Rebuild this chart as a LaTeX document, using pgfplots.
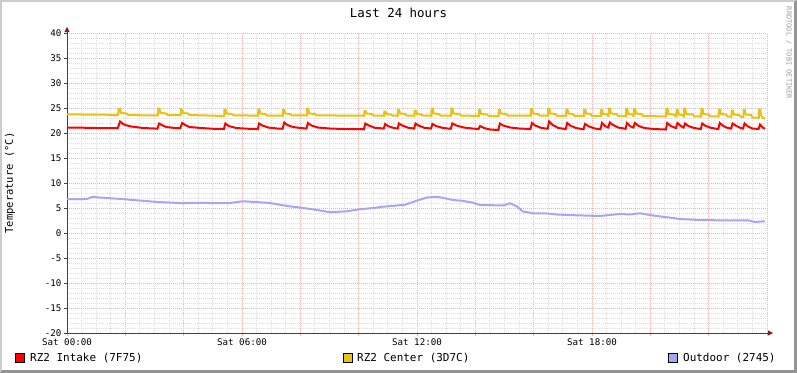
\documentclass[border=0pt]{standalone}
\usepackage{pgfplots}
\pgfplotsset{compat=1.18}
\usepackage{fontspec}
\setmainfont{DejaVu Sans Mono}
\usetikzlibrary{arrows.meta}
\definecolor{cred}{HTML}{FF0000}
\definecolor{cyel}{HTML}{EAC117}
\definecolor{clav}{HTML}{A6A6F6}
\definecolor{mgrid}{HTML}{EDB4B4}
\definecolor{ngrid}{HTML}{DEDEDE}
\definecolor{arrowc}{HTML}{7F1F1F}
\definecolor{axisc}{HTML}{404040}
\begin{document}
\begin{tikzpicture}
\useasboundingbox (0bp,0bp) rectangle (797bp,373bp);
\fill[black!20] (0bp,0bp) rectangle (797bp,373bp);
\fill[black!42] (0bp,0bp) -- (797bp,0bp) -- (797bp,373bp) -- (794bp,371bp) -- (794bp,3bp) -- (2bp,3bp) -- cycle;
\fill[white] (2bp,3bp) rectangle (794bp,371bp);
\begin{axis}[
  at={(67bp,40bp)}, anchor=south west,
  width=700bp, height=300bp, scale only axis,
  xmin=0, xmax=24, ymin=-20, ymax=40,
  axis lines=left,
  x axis line style={draw=axisc, line width=0.8bp, shorten >=-6bp, -{Triangle[length=5bp,width=5bp,color=arrowc]}},
  y axis line style={draw=axisc, line width=0.8bp, shorten >=-6bp, -{Triangle[length=5bp,width=5bp,color=arrowc]}},
  xtick={0,2,...,24},
  xticklabels={Sat 00:00,,,Sat 06:00,,,Sat 12:00,,,Sat 18:00,,,},
  ytick={-20,-15,...,40},
  yticklabels={-20,-15,-10,-5,0,5,10,15,20,25,30,35,40},
  minor x tick num=3, minor y tick num=4,
  grid=both,
  major grid style={draw=mgrid, line width=1bp, dash pattern=on 1bp off 1bp},
  minor grid style={draw=ngrid, line width=1bp, dash pattern=on 1bp off 1bp},
  major tick length=3bp, minor tick length=0bp,
  tick align=outside,
  x tick style={draw=mgrid, line width=1bp},
  y tick style={draw=axisc, line width=0.8bp},
  ticklabel style={font=\fontsize{9.2}{9.2}\selectfont},
  xticklabel style={yshift=1bp},
  yticklabel style={xshift=1bp},
  clip=false,
]
% RZ2 Intake
\addplot[cred, line width=2bp] coordinates {
(0,21.1) (0.6,21.05) (1.0,21.0) (1.4,21.0)
(1.74,20.95) (1.82,22.3) (1.9,21.9) (2.0,21.6) (2.2,21.3) (2.6,21.0) (3.0,20.9)
(3.10,20.85) (3.16,21.9) (3.25,21.6) (3.4,21.2) (3.7,21.0)
(3.88,20.95) (3.95,22.0) (4.05,21.6) (4.2,21.2) (4.6,21.0) (5.0,20.85) (5.35,20.8)
(5.38,20.8) (5.43,21.9) (5.55,21.4) (5.8,21.0) (6.2,20.85) (6.5,20.8)
(6.54,20.75) (6.59,21.9) (6.7,21.5) (6.9,21.1) (7.2,20.9) (7.38,20.85)
(7.39,20.85) (7.45,22.1) (7.55,21.6) (7.75,21.2) (8.0,21.0) (8.2,20.9)
(8.21,20.9) (8.26,22.0) (8.38,21.5) (8.6,21.1) (9.0,20.9) (9.5,20.8) (10.15,20.75)
(10.18,20.75) (10.23,21.9) (10.35,21.5) (10.55,21.05) (10.85,20.9)
(10.86,20.9) (10.91,21.8) (11.0,21.4) (11.2,21.0) (11.33,20.9)
(11.34,20.9) (11.38,21.9) (11.5,21.5) (11.7,21.05) (11.89,20.9)
(11.90,20.9) (11.95,21.9) (12.05,21.5) (12.25,21.05) (12.47,20.9)
(12.48,20.9) (12.53,21.8) (12.65,21.4) (12.9,21.0) (13.15,20.85)
(13.16,20.85) (13.21,21.9) (13.35,21.5) (13.6,21.1) (13.9,20.9) (14.1,20.8)
(14.11,20.8) (14.16,21.4) (14.3,21.0) (14.5,20.7) (14.78,20.6)
(14.79,20.6) (14.84,21.9) (14.95,21.5) (15.2,21.1) (15.5,20.9) (15.88,20.8)
(15.89,20.8) (15.94,22.0) (16.05,21.5) (16.25,21.05) (16.47,20.85)
(16.48,20.85) (16.53,22.3) (16.65,21.6) (16.85,21.0) (17.09,20.8)
(17.10,20.8) (17.15,22.0) (17.25,21.5) (17.45,21.0) (17.70,20.75)
(17.71,20.75) (17.76,21.8) (17.9,21.3) (18.1,20.9) (18.28,20.75)
(18.29,20.75) (18.34,22.0) (18.45,21.4) (18.55,21.1)
(18.56,21.1) (18.61,22.1) (18.72,21.6) (18.9,21.1) (19.14,20.85)
(19.15,20.85) (19.20,22.0) (19.3,21.4) (19.41,21.1)
(19.42,21.1) (19.47,22.0) (19.6,21.4) (19.8,21.0) (20.1,20.8) (20.52,20.7)
(20.53,20.7) (20.58,22.0) (20.7,21.4) (20.87,21.0)
(20.88,21.0) (20.93,22.0) (21.05,21.4) (21.13,21.1)
(21.14,21.1) (21.19,21.9) (21.3,21.4) (21.5,21.0) (21.72,20.8)
(21.73,20.8) (21.78,21.9) (21.9,21.4) (22.1,21.0) (22.32,20.8)
(22.33,20.8) (22.38,22.0) (22.5,21.4) (22.65,21.0) (22.76,20.9)
(22.77,20.9) (22.82,21.9) (22.95,21.4) (23.1,21.0) (23.17,20.9)
(23.18,20.9) (23.23,21.9) (23.35,21.3) (23.5,20.9) (23.70,20.8)
(23.71,20.8) (23.76,21.7) (23.85,21.1) (23.93,20.85)
};
% RZ2 Center
\addplot[cyel, line width=2bp] coordinates {
(0,23.75) (0.5,23.7) (0.9,23.65) (1.2,23.7) (1.5,23.6)
(1.75,23.6) (1.77,24.8) (1.82,24.8) (1.85,24.0) (2.05,23.9) (2.1,23.6) (2.5,23.55) (3.1,23.5)
(3.11,23.5) (3.13,24.9) (3.17,24.9) (3.2,24.0) (3.4,23.9) (3.45,23.6) (3.89,23.55)
(3.90,23.55) (3.91,24.7) (3.95,24.6) (3.98,24.0) (4.15,23.9) (4.2,23.6) (4.8,23.5) (5.38,23.4)
(5.39,23.4) (5.40,24.7) (5.44,24.7) (5.47,23.9) (5.65,23.8) (5.7,23.55) (6.2,23.5) (6.54,23.45)
(6.55,23.45) (6.56,24.7) (6.6,24.7) (6.63,23.9) (6.8,23.8) (6.85,23.5) (7.39,23.45)
(7.40,23.45) (7.41,24.6) (7.45,24.6) (7.48,23.9) (7.65,23.8) (7.7,23.55) (8.21,23.5)
(8.22,23.5) (8.23,24.8) (8.27,24.8) (8.3,23.9) (8.5,23.8) (8.55,23.55) (9.2,23.5) (10.18,23.45)
(10.19,23.45) (10.20,24.4) (10.24,24.4) (10.27,23.9) (10.45,23.8) (10.5,23.5) (10.86,23.45)
(10.87,23.45) (10.88,24.3) (10.92,24.3) (10.95,23.8) (11.1,23.7) (11.15,23.5) (11.33,23.45)
(11.34,23.45) (11.35,24.6) (11.39,24.6) (11.42,23.9) (11.6,23.8) (11.65,23.5) (11.90,23.45)
(11.91,23.45) (11.92,24.4) (11.96,24.4) (11.99,23.8) (12.15,23.7) (12.2,23.5) (12.48,23.45)
(12.49,23.45) (12.50,24.9) (12.54,24.9) (12.57,23.9) (12.75,23.8) (12.8,23.5) (13.16,23.45)
(13.17,23.45) (13.18,24.9) (13.22,24.9) (13.25,23.9) (13.45,23.8) (13.5,23.5) (14.11,23.4)
(14.12,23.4) (14.13,24.6) (14.17,24.6) (14.2,23.8) (14.4,23.7) (14.45,23.4) (14.79,23.35)
(14.80,23.35) (14.81,24.6) (14.85,24.6) (14.88,23.9) (15.05,23.8) (15.1,23.5) (15.89,23.45)
(15.90,23.45) (15.91,24.8) (15.95,24.8) (15.98,23.9) (16.15,23.8) (16.2,23.5) (16.48,23.45)
(16.49,23.45) (16.50,24.9) (16.54,24.9) (16.57,23.9) (16.75,23.8) (16.8,23.45) (17.10,23.4)
(17.11,23.4) (17.12,24.7) (17.16,24.7) (17.19,23.9) (17.35,23.8) (17.4,23.45) (17.71,23.4)
(17.72,23.4) (17.73,24.7) (17.77,24.7) (17.8,23.9) (17.95,23.8) (18.0,23.4) (18.29,23.35)
(18.30,23.35) (18.31,24.6) (18.35,24.6) (18.38,23.8) (18.52,23.7) (18.56,23.4)
(18.57,23.4) (18.58,24.9) (18.62,24.9) (18.65,23.9) (18.85,23.8) (18.9,23.4) (19.15,23.35)
(19.16,23.35) (19.17,24.8) (19.21,24.8) (19.24,23.8) (19.38,23.7) (19.42,23.4)
(19.43,23.4) (19.44,24.8) (19.48,24.8) (19.51,23.9) (19.7,23.8) (19.75,23.4) (20.2,23.35) (20.53,23.3)
(20.54,23.3) (20.55,24.9) (20.59,24.9) (20.62,23.8) (20.8,23.7) (20.87,23.3)
(20.89,23.3) (20.90,24.6) (20.94,24.6) (20.97,23.7) (21.1,23.6) (21.14,23.3)
(21.15,23.3) (21.16,24.9) (21.2,24.9) (21.23,23.8) (21.45,23.7) (21.5,23.35) (21.73,23.3)
(21.74,23.3) (21.75,24.8) (21.79,24.8) (21.82,23.8) (22.0,23.7) (22.05,23.35) (22.33,23.3)
(22.34,23.3) (22.35,24.7) (22.39,24.7) (22.42,23.8) (22.6,23.7) (22.65,23.3) (22.77,23.25)
(22.78,23.25) (22.79,24.5) (22.83,24.5) (22.86,23.7) (23.05,23.6) (23.1,23.25) (23.18,23.2)
(23.19,23.2) (23.20,24.6) (23.24,24.6) (23.27,23.7) (23.45,23.6) (23.5,23.1) (23.71,23.05)
(23.72,23.05) (23.73,24.7) (23.77,24.7) (23.8,23.5) (23.85,23.0) (23.93,22.9)
};
% Outdoor
\addplot[clav, line width=2bp] coordinates {
(0,6.8) (0.45,6.75) (0.7,6.85) (0.89,7.25) (1.1,7.1) (1.47,6.95) (1.9,6.8) (2.26,6.6)
(2.7,6.4) (3.09,6.2) (3.5,6.1) (3.98,5.95) (4.5,6.05) (4.90,6.0) (5.59,6.0)
(6.03,6.35) (6.45,6.2) (6.96,6.0) (7.25,5.7) (7.54,5.4) (7.99,5.1) (8.57,4.6)
(9.02,4.15) (9.60,4.35) (10.05,4.75) (10.5,5.0) (10.83,5.25) (11.31,5.5)
(11.59,5.65) (11.86,6.2) (12.03,6.55) (12.34,7.1) (12.69,7.25) (13.0,6.9)
(13.23,6.6) (13.54,6.45) (13.89,6.1) (14.16,5.6) (14.6,5.55) (14.95,5.5) (15.19,5.95)
(15.43,5.3) (15.63,4.3) (15.98,3.95) (16.46,3.9) (16.8,3.7) (17.14,3.6) (17.7,3.5)
(18.27,3.4) (18.6,3.6) (18.96,3.8) (19.3,3.7) (19.65,3.95) (20.09,3.5)
(20.57,3.15) (21.02,2.8) (21.70,2.6) (22.2,2.55) (22.73,2.55) (23.35,2.55)
(23.59,2.2) (23.93,2.35)
};
\end{axis}
\node[font=\fontsize{12.5}{12.5}\selectfont] at (398.5bp,360bp) {Last 24 hours};
\node[rotate=90, font=\fontsize{10.5}{10.5}\selectfont] at (10bp,190bp) {Temperature (°C)};
\node[rotate=-90, inner sep=0pt, text=black!38, font=\fontsize{7}{7}\selectfont] at (789bp,320bp) {RRDTOOL / TOBI OETIKER};
\filldraw[fill=cred, draw=black, line width=0.8bp] (15bp,10.5bp) rectangle (24bp,19.5bp);
\node[anchor=west, inner sep=0pt, font=\fontsize{11}{11}\selectfont] at (30bp,15bp) {RZ2 Intake (7F75)};
\filldraw[fill=cyel, draw=black, line width=0.8bp] (343bp,10.5bp) rectangle (352bp,19.5bp);
\node[anchor=west, inner sep=0pt, font=\fontsize{11}{11}\selectfont] at (357bp,15bp) {RZ2 Center (3D7C)};
\filldraw[fill=clav, draw=black, line width=0.8bp] (668bp,10.5bp) rectangle (677bp,19.5bp);
\node[anchor=west, inner sep=0pt, font=\fontsize{11}{11}\selectfont] at (683bp,15bp) {Outdoor (2745)};
\end{tikzpicture}
\end{document}
